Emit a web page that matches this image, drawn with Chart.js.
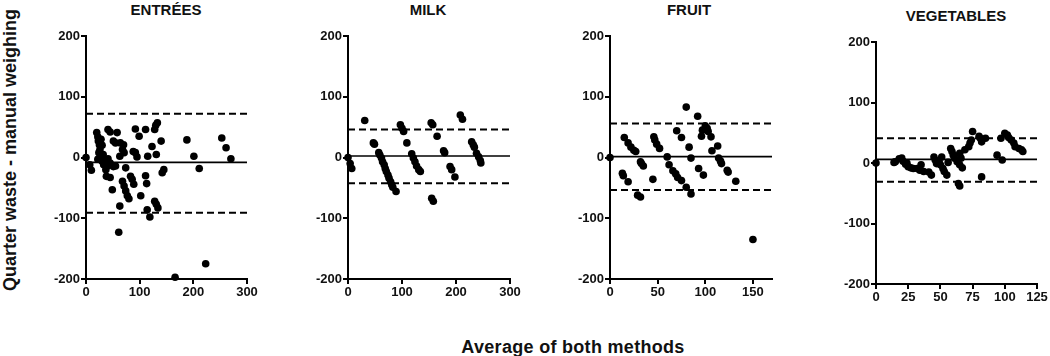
<!DOCTYPE html>
<html><head><meta charset="utf-8">
<script src="https://cdn.jsdelivr.net/npm/chart.js@4.4.1/dist/chart.umd.min.js"></script>
<style>
body{margin:0;background:#fff;width:1050px;height:356px;overflow:hidden;position:relative;font-family:"Liberation Sans",Arial,sans-serif;}
canvas{position:absolute;}
.t{position:absolute;font-weight:bold;color:#111;white-space:nowrap;line-height:1;}
</style></head><body>
<div class="t" id="ytitle" style="left:10px;top:150px;font-size:18px;transform:translate(-50%,-50%) rotate(-90deg);">Quarter waste - manual weighing</div>
<div class="t" id="xtitle" style="left:573px;top:338px;font-size:18px;letter-spacing:0.3px;transform:translateX(-50%);">Average of both methods</div>
<script>
// ---------- data ----------
const panelTitles = ['ENTRÉES', 'MILK', 'FRUIT', 'VEGETABLES'];
const yTickValues = [-200, -100, 0, 100, 200];
const xTickMax = [300, 300, 170, 125];
const xTickStep = [100, 100, 50, 25];

const entreesX = [0,7,10,20,22,23,25,26,24,27,22,30,33,37,28,30,32,36,40,41,45,51,55,58,64,70,68,71,35,41,45,55,38,45,51,49,63,74,68,71,74,77,80,63,61,83,86,89,88,92,92,111,99,102,95,111,113,115,114,119,123,130,133,128,140,131,145,142,128,131,134,188,201,211,253,261,270,223,166];
const entreesY = [0,-12,-21,41,34,27,21,13,8,2,-3,-6,-12,-20,30,20,5,-10,-14,46,42,27,24,41,24,21,13,8,-3,-2,-9,-14,-31,-33,-15,-53,2,-17,-39,-47,-55,-63,-68,-80,-123,-31,-36,-44,10,8,47,46,35,-63,1,-30,-43,2,-86,-98,18,53,57,46,27,5,-20,-25,-72,-77,-83,29,2,-18,32,16,-2,-175,-197];

const milkX = [0,4,7,31,47,49,57,59,62,64,67,69,71,74,76,79,81,83,89,97,100,103,109,118,121,124,127,131,134,154,157,155,158,165,177,179,189,192,198,208,212,229,232,234,238,242,245,246];
const milkY = [0,-10,-18,61,24,22,8,4,-1,-7,-12,-18,-23,-29,-34,-40,-45,-49,-56,54,48,43,24,6,-1,-7,-14,-20,-23,57,54,-67,-72,35,11,8,-15,-20,-32,70,63,26,21,17,7,1,-5,-9];

const fruitX = [0,15,19,22,25,27,32,33,35,13,14,19,29,32,45,46,47,49,52,60,62,66,69,71,75,80,85,70,75,80,83,85,93,98,92,96,97,100,102,103,106,107,113,114,116,117,123,124,132,150];
const fruitY = [0,33,24,17,12,10,-7,-10,-14,-26,-30,-40,-62,-65,-36,34,29,22,15,1,-12,-22,-27,-33,-38,-49,-60,44,33,83,17,-1,-18,-29,68,35,45,52,48,43,34,11,19,-1,-6,-10,-21,-24,-39,-135];

const vegX = [0,14,15,18,20,21,23,24,25,27,29,32,35,34,37,41,43,45,46,47,49,50,51,52,53,55,56,58,59,60,61,63,65,65,66,67,65,64,69,72,73,74,75,80,81,85,82,82,94,98,97,100,102,103,105,107,108,111,113,114];
const vegY = [0,1,2,7,8,3,-2,0,-6,-8,-9,-9,-3,-12,-14,-15,-20,10,5,-1,2,-3,10,-9,-14,-20,1,24,19,13,8,2,-3,16,8,-8,-38,-34,22,27,33,38,52,44,41,41,35,-23,13,5,41,49,46,42,38,33,27,24,22,19];

const meanDiff = [-8, 2.5, 1.5, 6];
const upperLoA = [72, 46, 56, 41];
const lowerLoA = [-91, -42.5, -53.5, -31];

const seriesX = [entreesX, milkX, fruitX, vegX];
const seriesY = [entreesY, milkY, fruitY, vegY];

// ---------- layout (positions only) ----------
const boxes = [
  {axisX: 86,  axisEnd: 247,  top: 36, bottom: 279, titleX: 166, titleTop: 2},
  {axisX: 348, axisEnd: 510,  top: 36, bottom: 279, titleX: 428, titleTop: 2},
  {axisX: 610, axisEnd: 772,  top: 36, bottom: 279, titleX: 689, titleTop: 2},
  {axisX: 876, axisEnd: 1037, top: 42, bottom: 284, titleX: 956, titleTop: 8}
];
const CH = 320, YW = 40, XH = 25;
const tickFont = {family: '"Liberation Sans", Arial, sans-serif', size: 13, weight: 'bold'};

boxes.forEach((b, i) => {
  const t = document.createElement('div');
  t.className = 't';
  t.textContent = panelTitles[i];
  t.style.cssText = `left:${b.titleX}px;top:${b.titleTop}px;font-size:15px;transform:translateX(-50%);`;
  document.body.appendChild(t);

  const cv = document.createElement('canvas');
  const W = b.axisEnd - b.axisX + 74;
  cv.width = W; cv.height = CH;
  cv.style.left = (b.axisX - 60) + 'px';
  cv.style.top = '0px';
  cv.style.width = W + 'px'; cv.style.height = CH + 'px';
  document.body.appendChild(cv);

  const pts = seriesX[i].map((x, k) => ({x, y: seriesY[i][k]}));
  const hline = (v) => [{x: 0, y: v}, {x: xTickMax[i], y: v}];

  new Chart(cv, {
    type: 'scatter',
    data: {
      datasets: [
        {data: hline(upperLoA[i]), showLine: true, borderColor: '#000', borderWidth: 2, borderDash: [7, 4], pointRadius: 0, clip: false},
        {data: hline(lowerLoA[i]), showLine: true, borderColor: '#000', borderWidth: 2, borderDash: [7, 4], pointRadius: 0, clip: false},
        {data: hline(meanDiff[i]), showLine: true, borderColor: '#000', borderWidth: 1.6, pointRadius: 0, clip: false},
        {data: pts, pointRadius: 3.8, backgroundColor: '#000', borderWidth: 0, clip: false}
      ]
    },
    options: {
      responsive: false, animation: false, devicePixelRatio: 1,
      events: [],
      layout: {padding: {left: 60 - YW, top: b.top, right: 14, bottom: CH - b.bottom - XH}},
      plugins: {legend: {display: false}, tooltip: {enabled: false}, title: {display: false}},
      scales: {
        x: {
          type: 'linear', min: 0, max: xTickMax[i],
          afterFit: s => { s.height = XH; },
          grid: {drawOnChartArea: false, drawTicks: true, tickLength: 5, color: '#000', lineWidth: 2},
          border: {display: true, color: '#000', width: 2},
          ticks: {stepSize: xTickStep[i], includeBounds: false, maxRotation: 0, autoSkip: false, padding: 1, color: '#111', font: tickFont}
        },
        y: {
          type: 'linear', min: yTickValues[0], max: yTickValues[yTickValues.length - 1],
          afterFit: s => { s.width = YW; },
          afterBuildTicks: s => { s.ticks = yTickValues.map(v => ({value: v})); },
          grid: {drawOnChartArea: false, drawTicks: true, tickLength: 5, color: '#000', lineWidth: 2},
          border: {display: true, color: '#000', width: 2},
          ticks: {padding: 1, color: '#111', font: tickFont}
        }
      }
    }
  });
});
</script>
</body></html>
